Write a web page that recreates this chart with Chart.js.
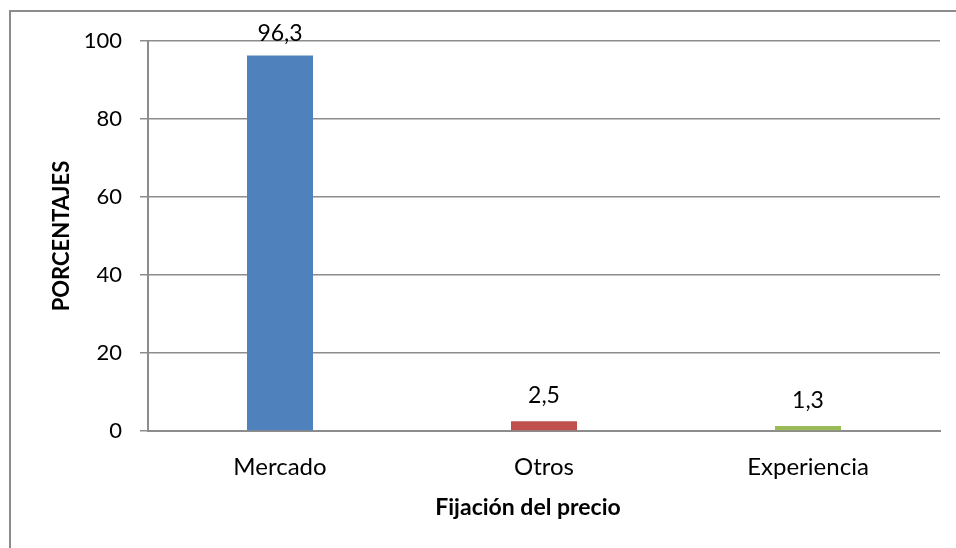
<!DOCTYPE html>
<html>
<head>
<meta charset="utf-8">
<script src="https://cdn.jsdelivr.net/npm/chart.js@4.4.1/dist/chart.umd.min.js"></script>
<style>
  html, body { margin: 0; padding: 0; background: #fff; overflow: hidden; }
  #wrap { position: relative; width: 956px; height: 548px; }
  #frame {
    position: absolute; left: 9px; top: 10px; width: 2000px; height: 2000px;
    border: 2px solid #8c8c8c; pointer-events: none;
  }
  canvas { position: absolute; left: 0; top: 0; }
</style>
</head>
<body>
<div id="wrap">
  <div id="frame"></div>
  <canvas id="chart" width="956" height="548"></canvas>
</div>
<script>
const categories = ["Mercado", "Otros", "Experiencia"];
const percentages = [96.3, 2.5, 1.3];
const yTicks = [0, 20, 40, 60, 80, 100];
const xTitle = "Fijación del precio";
const yTitle = "PORCENTAJES";

const barColors = ["#4F81BD", "#C0504D", "#9BBB59"];
const gridColor = "#8c8c8c";
const FONT = "Lato, 'Open Sans', sans-serif";

// etiquetas de datos y título del eje x
const labelsPlugin = {
  id: "labels",
  afterDatasetsDraw(chart) {
    const ctx = chart.ctx;
    const meta = chart.getDatasetMeta(0);
    const area = chart.chartArea;
    ctx.save();
    ctx.fillStyle = "#000";
    ctx.font = "23px " + FONT;
    ctx.textAlign = "center";
    ctx.textBaseline = "alphabetic";
    meta.data.forEach((bar, i) => {
      const txt = String(percentages[i]).replace(".", ",");
      const y = Math.max(bar.y - 18, area.top);
      ctx.fillText(txt, bar.x, y);
    });

    ctx.font = "bold 23px " + FONT;
    ctx.fillText(xTitle, (area.left + area.right) / 2 - 16, 515);
    ctx.restore();
  },
};

new Chart(document.getElementById("chart"), {
  type: "bar",
  data: {
    labels: categories,
    datasets: [
      {
        data: percentages,
        backgroundColor: barColors,
        borderWidth: 0,
        categoryPercentage: 1,
        barPercentage: 0.25,
      },
    ],
  },
  options: {
    responsive: false,
    animation: false,
    layout: { padding: { top: 41, right: 16, bottom: 0, left: 49 } },
    plugins: { legend: { display: false }, tooltip: { enabled: false } },
    scales: {
      x: {
        grid: { display: false },
        border: { display: true, color: gridColor, width: 2 },
        ticks: { color: "#000", font: { family: FONT, size: 24 }, padding: 14 },
        afterFit: (s) => { s.height = 117; },
      },
      y: {
        min: 0,
        max: 100,
        afterBuildTicks: (s) => { s.ticks = yTicks.map((v) => ({ value: v })); },
        grid: { color: gridColor, lineWidth: 1.5, tickLength: 8 },
        border: { display: true, color: gridColor, width: 2 },
        ticks: { color: "#000", font: { family: FONT, size: 22 }, padding: 18 },
        title: {
          display: true,
          text: yTitle,
          color: "#000",
          font: { family: FONT, size: 22, weight: "bold" },
          padding: 0,
        },
        afterFit: (s) => { s.width = 99; },
      },
    },
  },
  plugins: [labelsPlugin],
});
</script>
</body>
</html>
